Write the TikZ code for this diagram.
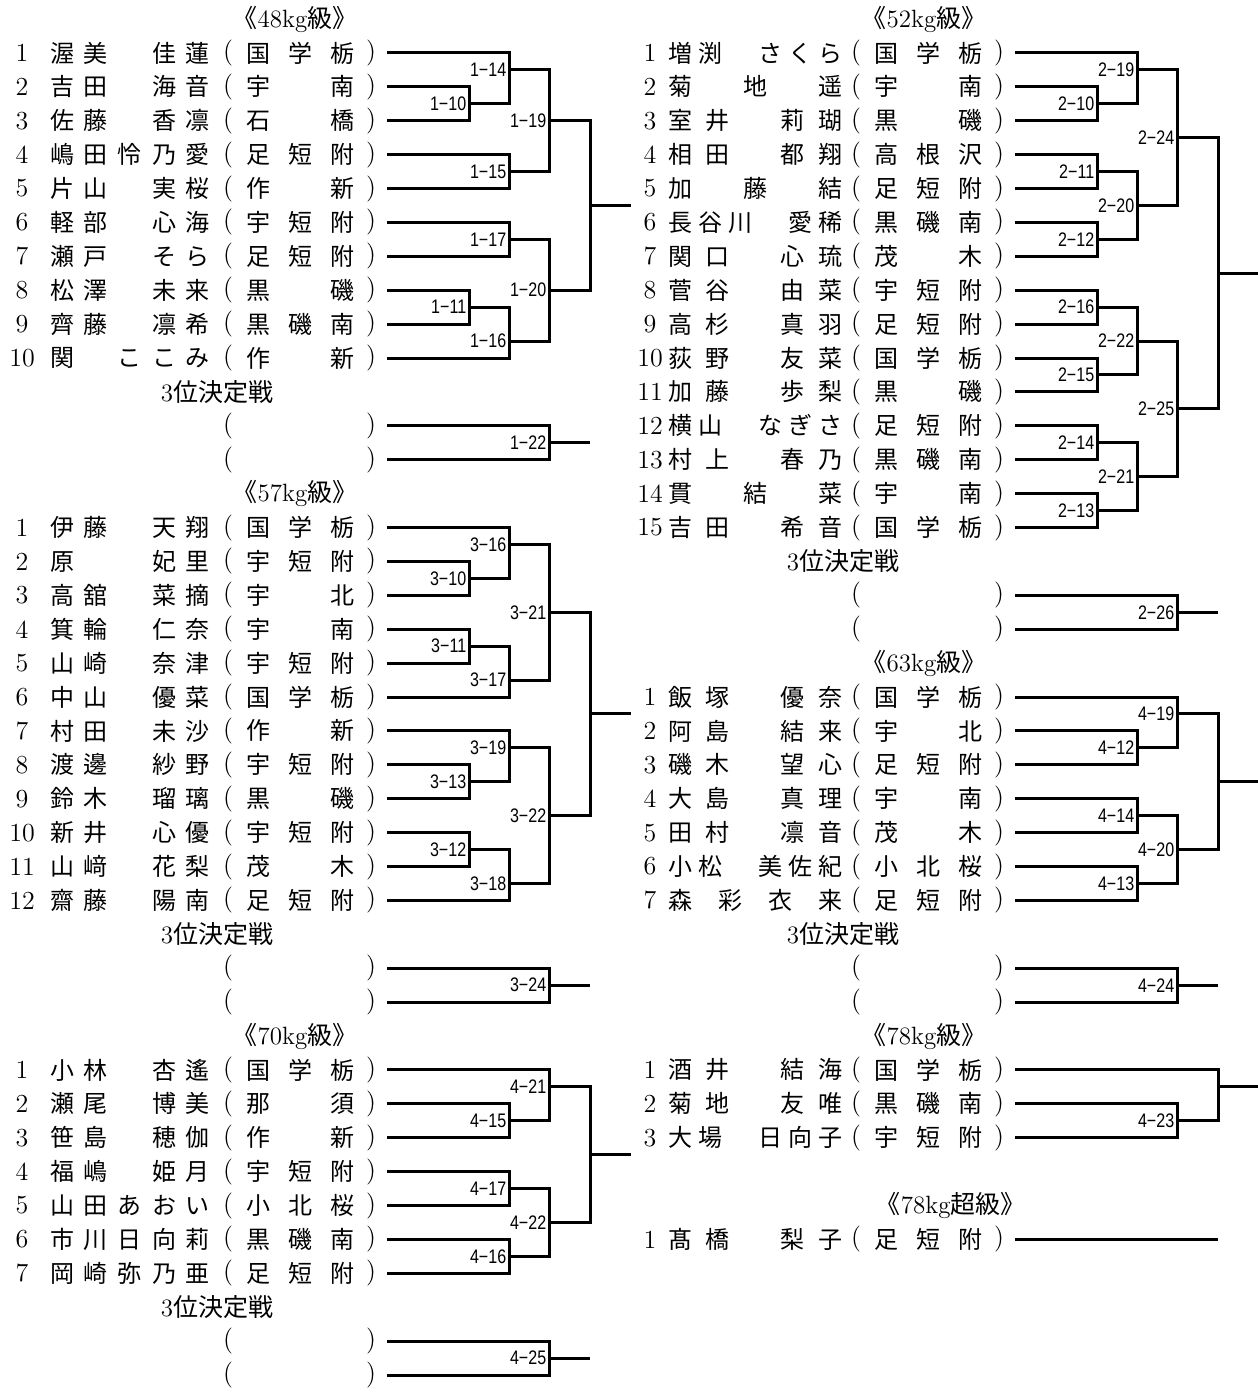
\documentclass[tikz,border=0pt]{standalone}
\usepackage{fontspec}
\newfontfamily\jp{Noto Sans CJK JP}
\newfontfamily\lblfont[FakeStretch=0.82]{Liberation Sans}

% spread the characters of a name over a fixed width
\makeatletter
\def\sprd#1{\sprd@#1\@nil}
\def\sprd@#1#2\@nil{#1\ifx\relax#2\relax\else\hfill\sprd@#2\@nil\fi}
\makeatother

\tikzset{
  bk/.style={line width=1.5pt},
  num/.style={inner sep=0pt, font=\fontsize{13}{15}\selectfont},
  pr/.style={inner sep=0pt, font=\fontsize{13}{15}\selectfont},
  nm/.style={inner sep=0pt, font=\fontsize{12}{14}\selectfont\jp},
  lbl/.style={anchor=east, inner xsep=1.2pt, inner ysep=0pt,
    font=\fontsize{9.8}{11}\selectfont\lblfont},
  ttl/.style={inner sep=0pt, font=\fontsize{12.5}{14}\selectfont},
}

\def\colA{469}
\def\colB{509}
\def\colC{549}
\def\colD{590}
\def\colE{631}

\newcommand\player[5]{% id, row, number, name, school
  \node[num] (#1n) at (22,#2) {#3};
  \node[nm] (#1m) at (\nmx,#2) {\makebox[\nmw][s]{\sprd{#4}}};
  \node[pr] (#1l) at (228,#2) {(};
  \node[nm] (#1s) at (300,#2) {\makebox[54pt][s]{\sprd{#5}}};
  \node[pr] (#1r) at (371,#2) {)};
  \coordinate (#1) at (387,#2);
}
\newcommand\noentry[2]{% id, row
  \node[pr] (#1l) at (228,#2) {(};
  \node[pr] (#1r) at (371,#2) {)};
  \coordinate (#1) at (387,#2);
}
\newcommand\bout[6]{% group, match, x, row, upper, lower
  \coordinate (m#1-#2) at (#3,#4);
  \draw[bk] (#5) -| (m#1-#2) |- (#6);
  \node[lbl] (l#1-#2) at (m#1-#2) {#1−#2};
}
\newcommand\runout[3]{% from, x, row
  \coordinate (#1e) at (#2,#3);
  \draw[bk] (#1) -- (#1e);
}
\newcommand\win[5]{% id, x, row, upper, lower
  \coordinate (#1) at (#2,#3);
  \draw[bk] (#4) -| (#1) |- (#5);
  \runout{#1}{\colE}{#3}
}
\newcommand\cls[1]{{\jp 《}#1kg{\jp 級》}}
\newcommand\third{3{\jp 位決定戦}}

\begin{document}
\begin{tikzpicture}[x=0.5pt, y=-8.475pt]
\useasboundingbox (0,-1.121) rectangle (1257,81.0);

\begin{scope}
\def\nmx{130}
\def\nmw{80pt}
% 48kg
\node[ttl] (t48) at (295,0) {\cls{48}};
\player{a1}{2}{1}{渥美　佳蓮}{国学栃}
\player{a2}{4}{2}{吉田　海音}{宇　南}
\player{a3}{6}{3}{佐藤　香凛}{石　橋}
\player{a4}{8}{4}{嶋田怜乃愛}{足短附}
\player{a5}{10}{5}{片山　実桜}{作　新}
\player{a6}{12}{6}{軽部　心海}{宇短附}
\player{a7}{14}{7}{瀬戸　そら}{足短附}
\player{a8}{16}{8}{松澤　未来}{黒　磯}
\player{a9}{18}{9}{齊藤　凛希}{黒磯南}
\player{a10}{20}{10}{関　ここみ}{作　新}
\bout{1}{10}{\colA}{5}{a2}{a3}
\bout{1}{14}{\colB}{3}{a1}{m1-10}
\bout{1}{15}{\colB}{9}{a4}{a5}
\bout{1}{19}{\colC}{6}{m1-14}{m1-15}
\bout{1}{17}{\colB}{13}{a6}{a7}
\bout{1}{11}{\colA}{17}{a8}{a9}
\bout{1}{16}{\colB}{19}{m1-11}{a10}
\bout{1}{20}{\colC}{16}{m1-17}{m1-16}
\win{af}{\colD}{11}{m1-19}{m1-20}
\node[ttl] (p48) at (217,22) {\third};
\noentry{ax}{24}
\noentry{ay}{26}
\bout{1}{22}{\colC}{25}{ax}{ay}
\runout{m1-22}{\colD}{25}

% 57kg
\node[ttl] (t57) at (295,28) {\cls{57}};
\player{b1}{30}{1}{伊藤　天翔}{国学栃}
\player{b2}{32}{2}{原　　妃里}{宇短附}
\player{b3}{34}{3}{高舘　菜摘}{宇　北}
\player{b4}{36}{4}{箕輪　仁奈}{宇　南}
\player{b5}{38}{5}{山崎　奈津}{宇短附}
\player{b6}{40}{6}{中山　優菜}{国学栃}
\player{b7}{42}{7}{村田　未沙}{作　新}
\player{b8}{44}{8}{渡邊　紗野}{宇短附}
\player{b9}{46}{9}{鈴木　瑠璃}{黒　磯}
\player{b10}{48}{10}{新井　心優}{宇短附}
\player{b11}{50}{11}{山﨑　花梨}{茂　木}
\player{b12}{52}{12}{齋藤　陽南}{足短附}
\bout{3}{10}{\colA}{33}{b2}{b3}
\bout{3}{16}{\colB}{31}{b1}{m3-10}
\bout{3}{11}{\colA}{37}{b4}{b5}
\bout{3}{17}{\colB}{39}{m3-11}{b6}
\bout{3}{21}{\colC}{35}{m3-16}{m3-17}
\bout{3}{13}{\colA}{45}{b8}{b9}
\bout{3}{19}{\colB}{43}{b7}{m3-13}
\bout{3}{12}{\colA}{49}{b10}{b11}
\bout{3}{18}{\colB}{51}{m3-12}{b12}
\bout{3}{22}{\colC}{47}{m3-19}{m3-18}
\win{bf}{\colD}{41}{m3-21}{m3-22}
\node[ttl] (p57) at (217,54) {\third};
\noentry{bx}{56}
\noentry{by}{58}
\bout{3}{24}{\colC}{57}{bx}{by}
\runout{m3-24}{\colD}{57}

% 70kg
\node[ttl] (t70) at (295,60) {\cls{70}};
\player{c1}{62}{1}{小林　杏遙}{国学栃}
\player{c2}{64}{2}{瀬尾　博美}{那　須}
\player{c3}{66}{3}{笹島　穂伽}{作　新}
\player{c4}{68}{4}{福嶋　姫月}{宇短附}
\player{c5}{70}{5}{山田あおい}{小北桜}
\player{c6}{72}{6}{市川日向莉}{黒磯南}
\player{c7}{74}{7}{岡崎弥乃亜}{足短附}
\bout{4}{15}{\colB}{65}{c2}{c3}
\bout{4}{21}{\colC}{63}{c1}{m4-15}
\bout{4}{17}{\colB}{69}{c4}{c5}
\bout{4}{16}{\colB}{73}{c6}{c7}
\bout{4}{22}{\colC}{71}{m4-17}{m4-16}
\win{cf}{\colD}{67}{m4-21}{m4-22}
\node[ttl] (p70) at (217,76) {\third};
\noentry{cx}{78}
\noentry{cy}{80}
\bout{4}{25}{\colC}{79}{cx}{cy}
\runout{m4-25}{\colD}{79}
\end{scope}

\begin{scope}[xshift=314pt]
\def\nmx{127}
\def\nmw{87pt}
% 52kg
\node[ttl] (t52) at (296,0) {\cls{52}};
\player{d1}{2}{1}{増渕　さくら}{国学栃}
\player{d2}{4}{2}{菊地遥}{宇　南}
\player{d3}{6}{3}{室井　莉瑚}{黒　磯}
\player{d4}{8}{4}{相田　都翔}{高根沢}
\player{d5}{10}{5}{加藤結}{足短附}
\player{d6}{12}{6}{長谷川　愛稀}{黒磯南}
\player{d7}{14}{7}{関口　心琉}{茂　木}
\player{d8}{16}{8}{菅谷　由菜}{宇短附}
\player{d9}{18}{9}{高杉　真羽}{足短附}
\player{d10}{20}{10}{荻野　友菜}{国学栃}
\player{d11}{22}{11}{加藤　歩梨}{黒　磯}
\player{d12}{24}{12}{横山　なぎさ}{足短附}
\player{d13}{26}{13}{村上　春乃}{黒磯南}
\player{d14}{28}{14}{貫結菜}{宇　南}
\player{d15}{30}{15}{吉田　希音}{国学栃}
\bout{2}{10}{\colA}{5}{d2}{d3}
\bout{2}{19}{\colB}{3}{d1}{m2-10}
\bout{2}{11}{\colA}{9}{d4}{d5}
\bout{2}{12}{\colA}{13}{d6}{d7}
\bout{2}{20}{\colB}{11}{m2-11}{m2-12}
\bout{2}{24}{\colC}{7}{m2-19}{m2-20}
\bout{2}{16}{\colA}{17}{d8}{d9}
\bout{2}{15}{\colA}{21}{d10}{d11}
\bout{2}{22}{\colB}{19}{m2-16}{m2-15}
\bout{2}{14}{\colA}{25}{d12}{d13}
\bout{2}{13}{\colA}{29}{d14}{d15}
\bout{2}{21}{\colB}{27}{m2-14}{m2-13}
\bout{2}{25}{\colC}{23}{m2-22}{m2-21}
\win{df}{\colD}{15}{m2-24}{m2-25}
\node[ttl] (p52) at (215,32) {\third};
\noentry{dx}{34}
\noentry{dy}{36}
\bout{2}{26}{\colC}{35}{dx}{dy}
\runout{m2-26}{\colD}{35}

% 63kg
\node[ttl] (t63) at (296,38) {\cls{63}};
\player{e1}{40}{1}{飯塚　優奈}{国学栃}
\player{e2}{42}{2}{阿島　結来}{宇　北}
\player{e3}{44}{3}{磯木　望心}{足短附}
\player{e4}{46}{4}{大島　真理}{宇　南}
\player{e5}{48}{5}{田村　凛音}{茂　木}
\player{e6}{50}{6}{小松　美佐紀}{小北桜}
\player{e7}{52}{7}{森彩衣来}{足短附}
\bout{4}{12}{\colB}{43}{e2}{e3}
\bout{4}{19}{\colC}{41}{e1}{m4-12}
\bout{4}{14}{\colB}{47}{e4}{e5}
\bout{4}{13}{\colB}{51}{e6}{e7}
\bout{4}{20}{\colC}{49}{m4-14}{m4-13}
\win{ef}{\colD}{45}{m4-19}{m4-20}
\node[ttl] (p63) at (215,54) {\third};
\noentry{ex}{56}
\noentry{ey}{58}
\bout{4}{24}{\colC}{57}{ex}{ey}
\runout{m4-24}{\colD}{57}

% 78kg
\node[ttl] (t78) at (296,60) {\cls{78}};
\player{f1}{62}{1}{酒井　結海}{国学栃}
\player{f2}{64}{2}{菊地　友唯}{黒磯南}
\player{f3}{66}{3}{大場　日向子}{宇短附}
\bout{4}{23}{\colC}{65}{f2}{f3}
\win{ff}{\colD}{63}{f1}{m4-23}

% over 78kg
\node[ttl, anchor=east] (t78p) at (398,70) {{\jp 《}78kg{\jp 超級》}};
\player{g1}{72}{1}{髙橋　梨子}{足短附}
\runout{g1}{\colD}{72}
\end{scope}
\end{tikzpicture}
\end{document}
